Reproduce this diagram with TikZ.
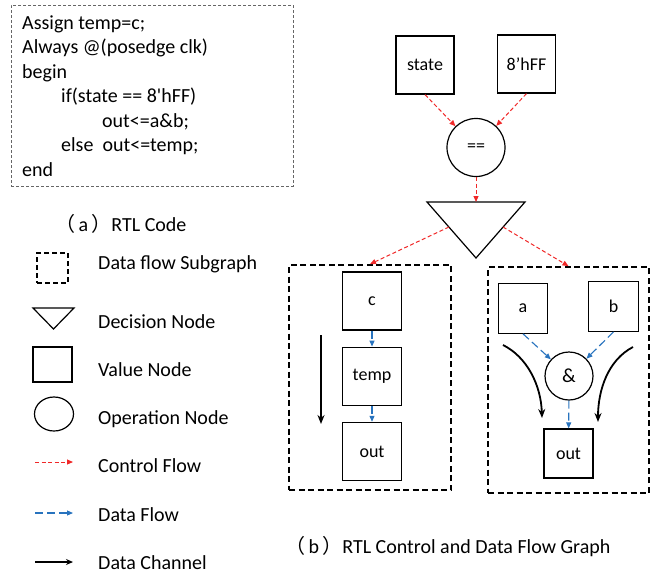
\documentclass[tikz,border=0pt]{standalone}
\usepackage{fontspec}
\setmainfont{Carlito}
\newfontfamily\cjkfont{Noto Sans CJK SC}
\usetikzlibrary{arrows.meta,positioning,shapes.geometric}
\definecolor{ctrlred}{RGB}{240,40,40}
\definecolor{datablue}{RGB}{40,115,190}
\newcommand{\subcap}[1]{{\cjkfont （}\,#1\,{\cjkfont ）}}

\begin{document}
\begin{tikzpicture}[x=1pt,y=-1pt,font=\fontsize{20}{24}\selectfont,
  value/.style={draw,line width=1.2pt,minimum size=58pt,inner sep=0pt,font=\fontsize{18}{20}\selectfont},
  oper/.style={draw,circle,line width=1.2pt,minimum size=58pt,inner sep=0pt,font=\fontsize{18}{20}\selectfont},
  subgraph/.style={draw,line width=1.8pt,dash pattern=on 6pt off 3.5pt},
  ctrl/.style={-{Triangle[length=6pt,width=5pt]},ctrlred,line width=1pt,dash pattern=on 4pt off 2.5pt},
  dflow/.style={-{Triangle[length=6pt,width=5pt]},datablue,line width=1.1pt,dash pattern=on 8pt off 4pt},
  chan/.style={-{Stealth[length=9pt,width=7pt]},line width=1.8pt},
  lbl/.style={anchor=base west,inner sep=0pt}]
  \useasboundingbox (0,0) rectangle (652,575);

  % RTL code
  \node[draw=black!60,line width=0.7pt,densely dashed,minimum width=282pt,minimum height=181pt] (code) at (152,95.5) {};
  \node[lbl] (c1) at (22,29.3) {Assign temp=c;};
  \node[lbl] (c2) at (22,53.8) {Always @(posedge clk)};
  \node[lbl] (c3) at (22,78.3) {begin};
  \node[lbl] (c4) at (61,102.8) {if(state == 8\textquotesingle hFF)};
  \node[lbl] (c5) at (102,127.3) {out<=a\&b;};
  \node[lbl] (c6) at (61,151.8) {else\ \ out<=temp;};
  \node[lbl] (c7) at (22,176.3) {end};
  \node[lbl] (capa) at (55,231.5) {\subcap{a}RTL Code};

  % legend
  \node[subgraph,line width=1.6pt,dash pattern=on 5pt off 3pt,minimum width=31pt,minimum height=30pt] (lg-sub) at (52.5,268) {};
  \draw[line width=1.2pt] (33,308) -- (74,308) -- (53.5,329) -- cycle;
  \node[draw,line width=1.2pt,minimum width=39pt,minimum height=35pt] (lg-val) at (52.5,364.5) {};
  \node[draw,ellipse,line width=1.2pt,minimum width=39pt,minimum height=34pt,inner sep=0pt] (lg-op) at (54,414) {};
  \coordinate (lg-c1) at (35,462);
  \coordinate (lg-c2) at (73,462);
  \coordinate (lg-d1) at (35,513);
  \coordinate (lg-d2) at (73,513);
  \coordinate (lg-h1) at (35,562);
  \coordinate (lg-h2) at (73,562);
  \draw[ctrl] (lg-c1) -- (lg-c2);
  \draw[dflow] (lg-d1) -- (lg-d2);
  \draw[chan,line width=1.5pt,-{Stealth[length=7pt,width=6pt]}] (lg-h1) -- (lg-h2);
  \node[lbl] (t-sub) at (98,269.3) {Data flow Subgraph};
  \node[lbl] (t-dec) at (98,328) {Decision Node};
  \node[lbl] (t-val) at (98,376) {Value Node};
  \node[lbl] (t-op) at (98,424) {Operation Node};
  \node[lbl] (t-ctrl) at (98,472.7) {Control Flow};
  \node[lbl] (t-data) at (98,521) {Data Flow};
  \node[lbl] (t-chan) at (98,569) {Data Channel};

  % control part
  \node[value] (state) at (425,65) {state};
  \node[value] (ff) at (526.5,64) {8’hFF};
  \node[oper] (eq) at (476,147.5) {==};
  \draw[line width=1.2pt] (427,202) -- (525,202) -- (476,258) -- cycle;
  \coordinate (dec-top) at (476,202);
  \coordinate (dec-l) at (449,227);
  \coordinate (dec-r) at (503,227);
  \draw[ctrl] (state.south) -- (eq);
  \draw[ctrl] (ff.south) -- (eq);
  \draw[ctrl] (eq.south) -- (dec-top);

  % data flow subgraphs
  \node[subgraph,minimum width=162pt,minimum height=225pt] (lgraph) at (370,377.5) {};
  \node[subgraph,minimum width=161pt,minimum height=226pt] (rgraph) at (568.5,380) {};
  \draw[ctrl] (dec-l) -- (lgraph.north);
  \draw[ctrl] (dec-r) -- (rgraph.north);

  \node[value,minimum width=59pt] (c) at (372,301) {c};
  \node[value,minimum width=59pt] (temp) [below=16pt of c] {temp};
  \node[value,minimum width=59pt] (lout) [below=16pt of temp] {out};
  \draw[dflow] (c) -- (temp);
  \draw[dflow] (temp) -- (lout);
  \coordinate (lch-s) at (321,335);
  \coordinate (lch-e) at (321,424);
  \draw[chan] (lch-s) -- (lch-e);

  \node[value,minimum size=49.5pt] (a) at (523,308.5) {a};
  \node[value,minimum size=49.5pt] (b) at (613.5,306.5) {b};
  \node[oper,minimum size=48pt,font=\fontsize{20}{22}\selectfont] (amp) at (569,376) {\&};
  \node[value,minimum size=49pt] (rout) at (568.5,453.5) {out};
  \draw[dflow] (a.south) -- (amp);
  \draw[dflow] (b.south) -- (amp);
  \draw[dflow] (amp) -- (rout);
  \coordinate (rch1-s) at (503,345);
  \coordinate (rch1-e) at (542,418);
  \coordinate (rch2-s) at (633,347);
  \coordinate (rch2-e) at (598,422);
  \draw[chan] (rch1-s) .. controls (527,357) and (541,385) .. (rch1-e);
  \draw[chan] (rch2-s) .. controls (608,360) and (598,390) .. (rch2-e);

  \node[lbl] (capb) at (285,553) {\subcap{b}RTL Control and Data Flow Graph};
\end{tikzpicture}
\end{document}
